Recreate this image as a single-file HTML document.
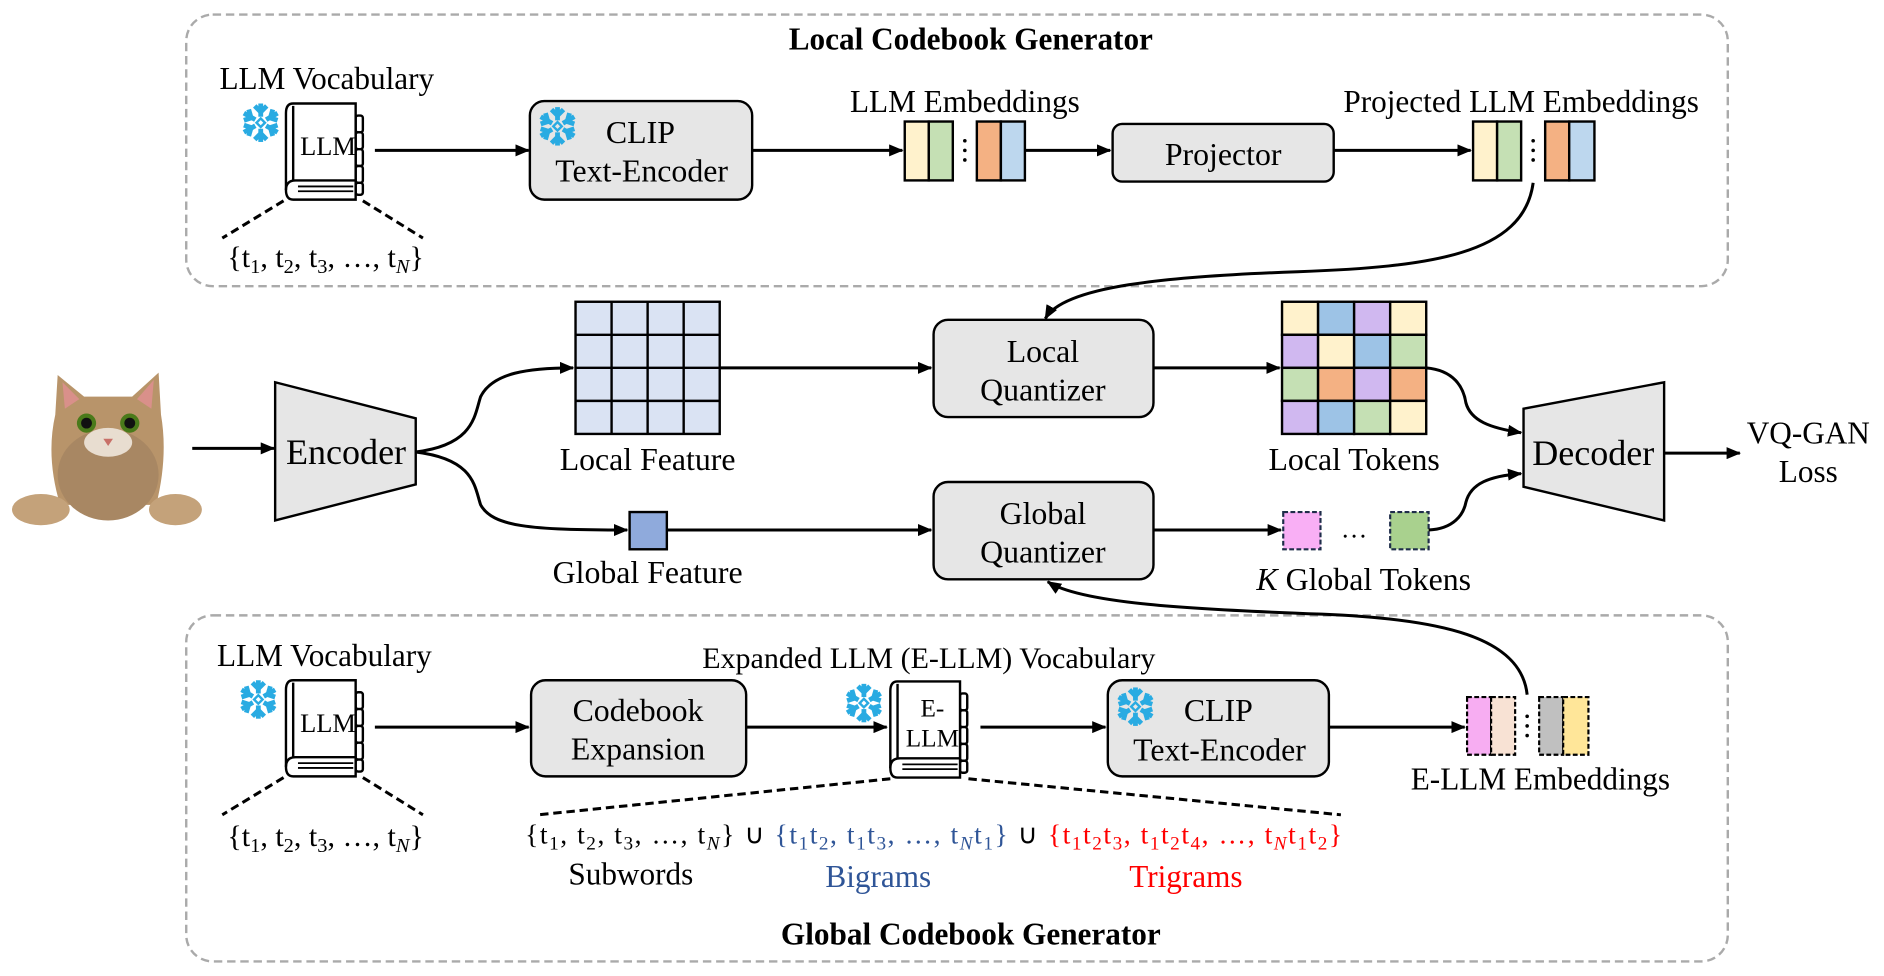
<!DOCTYPE html>
<html><head><meta charset="utf-8"><style>
html,body{margin:0;padding:0;background:#fff;width:1884px;height:976px;overflow:hidden}
svg{display:block}
text{font-family:"Liberation Serif",serif;fill:#000}
</style></head><body>
<svg width="1884" height="976" viewBox="0 0 1568 812" xmlns="http://www.w3.org/2000/svg">
<defs>
<marker id="ah" markerUnits="userSpaceOnUse" markerWidth="12" markerHeight="10" refX="11" refY="5" orient="auto">
<path d="M0,0 L12,5 L0,10 z" fill="#000"/></marker>
<g id="snow" stroke="#29abe2" stroke-width="4" fill="none" stroke-linecap="butt">
<line x1="0" y1="-16" x2="0" y2="-5"/><line x1="0" y1="16" x2="0" y2="5"/>
<line x1="-14" y1="-8" x2="-4.5" y2="-2.5"/><line x1="14" y1="8" x2="4.5" y2="2.5"/>
<line x1="-14" y1="8" x2="-4.5" y2="2.5"/><line x1="14" y1="-8" x2="4.5" y2="-2.5"/>
<path d="M-5,-14 L0,-9 L5,-14 M-5,14 L0,9 L5,14 M-14,-2 L-8,-4 L-10,-11 M14,2 L8,4 L10,11 M-14,2 L-8,4 L-10,11 M14,-2 L8,-4 L10,-11"/>
<rect x="-2.5" y="-2.5" width="5" height="5" transform="rotate(45)" stroke-width="2"/>
</g>
<g id="book" fill="#fff" stroke="#000" stroke-width="2">
<rect x="58" y="10" width="6" height="14" rx="2"/><rect x="58" y="24" width="6" height="14" rx="2"/><rect x="58" y="38" width="6" height="14" rx="2"/><rect x="58" y="52" width="6" height="14" rx="2"/><rect x="58" y="66" width="6" height="10" rx="2"/>
<path d="M6,0 L58,0 L58,80 L6,80 Q0,80 0,72 L0,8 Q0,0 6,0 z"/>
<path d="M6,2 L6,64" />
<path d="M0,72 Q0,64 8,64 L58,64" fill="none"/>
<line x1="10" y1="69" x2="56" y2="69" stroke-width="1.5"/><line x1="10" y1="73" x2="56" y2="73" stroke-width="1.5"/>
</g>
</defs>

<!-- top dashed box -->
<rect x="155" y="12" width="1283" height="226" rx="22" fill="none" stroke="#aaa" stroke-width="2" stroke-dasharray="7,4"/>
<text x="808" y="41" text-anchor="middle" font-size="26" font-weight="bold">Local Codebook Generator</text>
<text x="272" y="74" text-anchor="middle" font-size="26">LLM Vocabulary</text>
<use href="#book" x="238" y="86"/>
<text x="273" y="129" text-anchor="middle" font-size="22">LLM</text>
<use href="#snow" x="217" y="102"/>
<path d="M236,167 L185,198 M302,167 L352,198" stroke="#000" stroke-width="2.5" stroke-dasharray="7,4"/>
<text x="271" y="222" text-anchor="middle" font-size="25">{t<tspan dy="5" font-size="17">1</tspan><tspan dy="-5">, t</tspan><tspan dy="5" font-size="17">2</tspan><tspan dy="-5">, t</tspan><tspan dy="5" font-size="17">3</tspan><tspan dy="-5">, …, t</tspan><tspan dy="5" font-size="17" font-style="italic">N</tspan><tspan dy="-5">}</tspan></text>
<line x1="312" y1="125" x2="440" y2="125" stroke="#000" stroke-width="2.5" marker-end="url(#ah)"/>
<rect x="441" y="84" width="185" height="82" rx="12" fill="#e6e6e6" stroke="#000" stroke-width="2"/>
<use href="#snow" x="464" y="105"/>
<text x="533" y="119" text-anchor="middle" font-size="26.5">CLIP</text>
<text x="534" y="151" text-anchor="middle" font-size="26.5">Text-Encoder</text>
<line x1="626" y1="125" x2="751" y2="125" stroke="#000" stroke-width="2.5" marker-end="url(#ah)"/>
<text x="803" y="93" text-anchor="middle" font-size="26">LLM Embeddings</text>
<g stroke="#000" stroke-width="2">
<rect x="753" y="101" width="20" height="49" fill="#fff2cc"/><rect x="773" y="101" width="20" height="49" fill="#c5e0b4"/>
<rect x="813" y="101" width="20" height="49" fill="#f4b183"/><rect x="833" y="101" width="20" height="49" fill="#bdd7ee"/>
<rect x="1226" y="101" width="20" height="49" fill="#fff2cc"/><rect x="1246" y="101" width="20" height="49" fill="#c5e0b4"/>
<rect x="1286" y="101" width="20" height="49" fill="#f4b183"/><rect x="1306" y="101" width="21" height="49" fill="#bdd7ee"/>
</g>
<g fill="#000"><circle cx="803" cy="117" r="1.5"/><circle cx="803" cy="125" r="1.5"/><circle cx="803" cy="133" r="1.5"/>
<circle cx="1276" cy="117" r="1.5"/><circle cx="1276" cy="125" r="1.5"/><circle cx="1276" cy="133" r="1.5"/></g>
<line x1="853" y1="125" x2="924" y2="125" stroke="#000" stroke-width="2.5" marker-end="url(#ah)"/>
<rect x="926" y="103" width="184" height="48" rx="8" fill="#e6e6e6" stroke="#000" stroke-width="2"/>
<text x="1018" y="137" text-anchor="middle" font-size="26.5">Projector</text>
<line x1="1110" y1="125" x2="1224" y2="125" stroke="#000" stroke-width="2.5" marker-end="url(#ah)"/>
<text x="1266" y="93" text-anchor="middle" font-size="26">Projected LLM Embeddings</text>
<path d="M1276,152 C1268,212 1190,222 1080,226 C970,230 885,238 870,265" fill="none" stroke="#000" stroke-width="2.5" marker-end="url(#ah)"/>

<!-- cat -->
<g>
<path d="M48,312 L70,330 L110,330 L132,310 L134,345 Q140,380 130,420 L50,420 Q38,380 46,345 z" fill="#b8946a"/>
<path d="M52,318 L66,332 L54,340 z M128,316 L114,332 L126,340z" fill="#d9908a"/>
<ellipse cx="90" cy="395" rx="42" ry="38" fill="#a88763"/>
<ellipse cx="90" cy="368" rx="20" ry="12" fill="#e8ddd0"/>
<circle cx="72" cy="352" r="8" fill="#4a7a1a"/><circle cx="108" cy="352" r="8" fill="#4a7a1a"/>
<circle cx="72" cy="352" r="4.5" fill="#111"/><circle cx="108" cy="352" r="4.5" fill="#111"/>
<path d="M86,365 L94,365 L90,371z" fill="#c87068"/>
<ellipse cx="34" cy="424" rx="24" ry="13" fill="#c4a27a"/>
<ellipse cx="146" cy="424" rx="22" ry="13" fill="#c4a27a"/>
</g>
<line x1="160" y1="373" x2="228" y2="373" stroke="#000" stroke-width="2.5" marker-end="url(#ah)"/>
<path d="M229,318 L346,348 L346,403 L229,433 z" fill="#e6e6e6" stroke="#000" stroke-width="2"/>
<text x="288" y="386" text-anchor="middle" font-size="30">Encoder</text>
<path d="M346,376 C395,370 395,345 400,330 C410,310 440,306 477,306" fill="none" stroke="#000" stroke-width="2.5" marker-end="url(#ah)"/>
<path d="M346,376 C395,382 395,405 400,420 C410,438 440,441 522,441" fill="none" stroke="#000" stroke-width="2.5" marker-end="url(#ah)"/>
<g stroke="#000" stroke-width="2" fill="#dae3f3">
<rect x="479" y="251" width="120" height="110"/>
<path d="M509,251 V361 M539,251 V361 M569,251 V361 M479,278.5 H599 M479,306 H599 M479,333.5 H599" fill="none"/>
</g>
<text x="539" y="391" text-anchor="middle" font-size="26.5">Local Feature</text>
<rect x="524" y="426" width="31" height="31" fill="#8faadc" stroke="#000" stroke-width="2"/>
<text x="539" y="485" text-anchor="middle" font-size="26.5">Global Feature</text>
<line x1="599" y1="306" x2="775" y2="306" stroke="#000" stroke-width="2.5" marker-end="url(#ah)"/>
<line x1="555" y1="441" x2="775" y2="441" stroke="#000" stroke-width="2.5" marker-end="url(#ah)"/>
<rect x="777" y="266" width="183" height="81" rx="12" fill="#e6e6e6" stroke="#000" stroke-width="2"/>
<text x="868" y="301" text-anchor="middle" font-size="26.5">Local</text>
<text x="868" y="333" text-anchor="middle" font-size="26.5">Quantizer</text>
<rect x="777" y="401" width="183" height="81" rx="12" fill="#e6e6e6" stroke="#000" stroke-width="2"/>
<text x="868" y="436" text-anchor="middle" font-size="26.5">Global</text>
<text x="868" y="468" text-anchor="middle" font-size="26.5">Quantizer</text>
<line x1="960" y1="306" x2="1065" y2="306" stroke="#000" stroke-width="2.5" marker-end="url(#ah)"/>
<line x1="960" y1="441" x2="1066" y2="441" stroke="#000" stroke-width="2.5" marker-end="url(#ah)"/>
<g stroke="#000" stroke-width="2">
<rect x="1067" y="251" width="30" height="27.5" fill="#fff2cc"/><rect x="1097" y="251" width="30" height="27.5" fill="#9dc3e6"/><rect x="1127" y="251" width="30" height="27.5" fill="#d0b8f0"/><rect x="1157" y="251" width="30" height="27.5" fill="#fff2cc"/>
<rect x="1067" y="278.5" width="30" height="27.5" fill="#d0b8f0"/><rect x="1097" y="278.5" width="30" height="27.5" fill="#fff2cc"/><rect x="1127" y="278.5" width="30" height="27.5" fill="#9dc3e6"/><rect x="1157" y="278.5" width="30" height="27.5" fill="#c5e0b4"/>
<rect x="1067" y="306" width="30" height="27.5" fill="#c5e0b4"/><rect x="1097" y="306" width="30" height="27.5" fill="#f4b183"/><rect x="1127" y="306" width="30" height="27.5" fill="#d0b8f0"/><rect x="1157" y="306" width="30" height="27.5" fill="#f4b183"/>
<rect x="1067" y="333.5" width="30" height="27.5" fill="#d0b8f0"/><rect x="1097" y="333.5" width="30" height="27.5" fill="#9dc3e6"/><rect x="1127" y="333.5" width="30" height="27.5" fill="#c5e0b4"/><rect x="1157" y="333.5" width="30" height="27.5" fill="#fff2cc"/>
</g>
<text x="1127" y="391" text-anchor="middle" font-size="26.5">Local Tokens</text>
<rect x="1068" y="426" width="31" height="31" fill="#f9aff5" stroke="#1f2d4a" stroke-width="1.8" stroke-dasharray="4,2"/>
<text x="1127" y="447" text-anchor="middle" font-size="22">…</text>
<rect x="1157" y="426" width="32" height="31" fill="#a9d18e" stroke="#1f2d4a" stroke-width="1.8" stroke-dasharray="4,2"/>
<text x="1135" y="491" text-anchor="middle" font-size="26.5"><tspan font-style="italic">K</tspan> Global Tokens</text>
<path d="M1187,306 C1210,308 1218,322 1220,335 C1224,350 1240,356 1266,360" fill="none" stroke="#000" stroke-width="2.5" marker-end="url(#ah)"/>
<path d="M1189,441 C1210,440 1218,428 1220,418 C1224,402 1240,396 1266,394" fill="none" stroke="#000" stroke-width="2.5" marker-end="url(#ah)"/>
<path d="M1268,340 L1385,318 L1385,433 L1268,405 z" fill="#e6e6e6" stroke="#000" stroke-width="2"/>
<text x="1326" y="387" text-anchor="middle" font-size="30">Decoder</text>
<line x1="1385" y1="377" x2="1448" y2="377" stroke="#000" stroke-width="2.5" marker-end="url(#ah)"/>
<text x="1505" y="369" text-anchor="middle" font-size="26">VQ-GAN</text>
<text x="1505" y="401" text-anchor="middle" font-size="26">Loss</text>

<!-- bottom dashed box -->
<rect x="155" y="512" width="1283" height="288" rx="22" fill="none" stroke="#aaa" stroke-width="2" stroke-dasharray="7,4"/>
<text x="808" y="786" text-anchor="middle" font-size="26" font-weight="bold">Global Codebook Generator</text>
<text x="270" y="554" text-anchor="middle" font-size="26">LLM Vocabulary</text>
<use href="#book" x="238" y="566"/>
<text x="273" y="609" text-anchor="middle" font-size="22">LLM</text>
<use href="#snow" x="215" y="582"/>
<path d="M236,647 L185,678 M302,647 L352,678" stroke="#000" stroke-width="2.5" stroke-dasharray="7,4"/>
<text x="271" y="704" text-anchor="middle" font-size="25">{t<tspan dy="5" font-size="17">1</tspan><tspan dy="-5">, t</tspan><tspan dy="5" font-size="17">2</tspan><tspan dy="-5">, t</tspan><tspan dy="5" font-size="17">3</tspan><tspan dy="-5">, …, t</tspan><tspan dy="5" font-size="17" font-style="italic">N</tspan><tspan dy="-5">}</tspan></text>
<line x1="312" y1="605" x2="440" y2="605" stroke="#000" stroke-width="2.5" marker-end="url(#ah)"/>
<rect x="442" y="566" width="179" height="80" rx="12" fill="#e6e6e6" stroke="#000" stroke-width="2"/>
<text x="531" y="600" text-anchor="middle" font-size="26.5">Codebook</text>
<text x="531" y="632" text-anchor="middle" font-size="26.5">Expansion</text>
<line x1="621" y1="605" x2="738" y2="605" stroke="#000" stroke-width="2.5" marker-end="url(#ah)"/>
<text x="773" y="556" text-anchor="middle" font-size="25">Expanded LLM (E-LLM) Vocabulary</text>
<use href="#book" x="741" y="567"/>
<text x="776" y="596" text-anchor="middle" font-size="21">E-</text>
<text x="776" y="621" text-anchor="middle" font-size="21">LLM</text>
<use href="#snow" x="719" y="585"/>
<path d="M741,648 L448,678 M806,648 L1116,678" stroke="#000" stroke-width="2.5" stroke-dasharray="7,4"/>
<line x1="816" y1="605" x2="920" y2="605" stroke="#000" stroke-width="2.5" marker-end="url(#ah)"/>
<rect x="922" y="566" width="184" height="80" rx="12" fill="#e6e6e6" stroke="#000" stroke-width="2"/>
<use href="#snow" x="945" y="588"/>
<text x="1014" y="600" text-anchor="middle" font-size="26.5">CLIP</text>
<text x="1015" y="633" text-anchor="middle" font-size="26.5">Text-Encoder</text>
<line x1="1106" y1="605" x2="1219" y2="605" stroke="#000" stroke-width="2.5" marker-end="url(#ah)"/>
<g stroke="#000" stroke-width="1.8" stroke-dasharray="4,2">
<rect x="1221" y="580" width="20" height="48" fill="#f7adf2"/><rect x="1241" y="580" width="20" height="48" fill="#f8e2d4"/>
<rect x="1281" y="580" width="20" height="48" fill="#c0c0c0"/><rect x="1301" y="580" width="21" height="48" fill="#ffe699"/>
</g>
<g fill="#000"><circle cx="1271" cy="596" r="1.5"/><circle cx="1271" cy="604" r="1.5"/><circle cx="1271" cy="612" r="1.5"/></g>
<text x="1282" y="657" text-anchor="middle" font-size="26">E-LLM Embeddings</text>
<path d="M1271,578 C1266,530 1200,515 1100,511 C990,507 900,502 872,484" fill="none" stroke="#000" stroke-width="2.5" marker-end="url(#ah)"/>

<text x="437" y="702" font-size="23" textLength="680" lengthAdjust="spacing">{t<tspan dy="5" font-size="16">1</tspan><tspan dy="-5">, t</tspan><tspan dy="5" font-size="16">2</tspan><tspan dy="-5">, t</tspan><tspan dy="5" font-size="16">3</tspan><tspan dy="-5">, …, t</tspan><tspan dy="5" font-size="16" font-style="italic">N</tspan><tspan dy="-5">} ∪ </tspan><tspan style="fill:#2f5597">{t</tspan><tspan style="fill:#2f5597" dy="5" font-size="16">1</tspan><tspan style="fill:#2f5597" dy="-5">t</tspan><tspan style="fill:#2f5597" dy="5" font-size="16">2</tspan><tspan style="fill:#2f5597" dy="-5">, t</tspan><tspan style="fill:#2f5597" dy="5" font-size="16">1</tspan><tspan style="fill:#2f5597" dy="-5">t</tspan><tspan style="fill:#2f5597" dy="5" font-size="16">3</tspan><tspan style="fill:#2f5597" dy="-5">, …, t</tspan><tspan style="fill:#2f5597" dy="5" font-size="16" font-style="italic">N</tspan><tspan style="fill:#2f5597" dy="-5">t</tspan><tspan style="fill:#2f5597" dy="5" font-size="16">1</tspan><tspan style="fill:#2f5597" dy="-5">}</tspan><tspan> ∪ </tspan><tspan style="fill:#ff0000">{t</tspan><tspan style="fill:#ff0000" dy="5" font-size="16">1</tspan><tspan style="fill:#ff0000" dy="-5">t</tspan><tspan style="fill:#ff0000" dy="5" font-size="16">2</tspan><tspan style="fill:#ff0000" dy="-5">t</tspan><tspan style="fill:#ff0000" dy="5" font-size="16">3</tspan><tspan style="fill:#ff0000" dy="-5">, t</tspan><tspan style="fill:#ff0000" dy="5" font-size="16">1</tspan><tspan style="fill:#ff0000" dy="-5">t</tspan><tspan style="fill:#ff0000" dy="5" font-size="16">2</tspan><tspan style="fill:#ff0000" dy="-5">t</tspan><tspan style="fill:#ff0000" dy="5" font-size="16">4</tspan><tspan style="fill:#ff0000" dy="-5">, …, t</tspan><tspan style="fill:#ff0000" dy="5" font-size="16" font-style="italic">N</tspan><tspan style="fill:#ff0000" dy="-5">t</tspan><tspan style="fill:#ff0000" dy="5" font-size="16">1</tspan><tspan style="fill:#ff0000" dy="-5">t</tspan><tspan style="fill:#ff0000" dy="5" font-size="16">2</tspan><tspan style="fill:#ff0000" dy="-5">}</tspan></text>
<text x="525" y="736" text-anchor="middle" font-size="26">Subwords</text>
<text x="731" y="738" text-anchor="middle" font-size="26" style="fill:#2f5597">Bigrams</text>
<text x="987" y="738" text-anchor="middle" font-size="26" style="fill:#ff0000">Trigrams</text>
</svg>
</body></html>
